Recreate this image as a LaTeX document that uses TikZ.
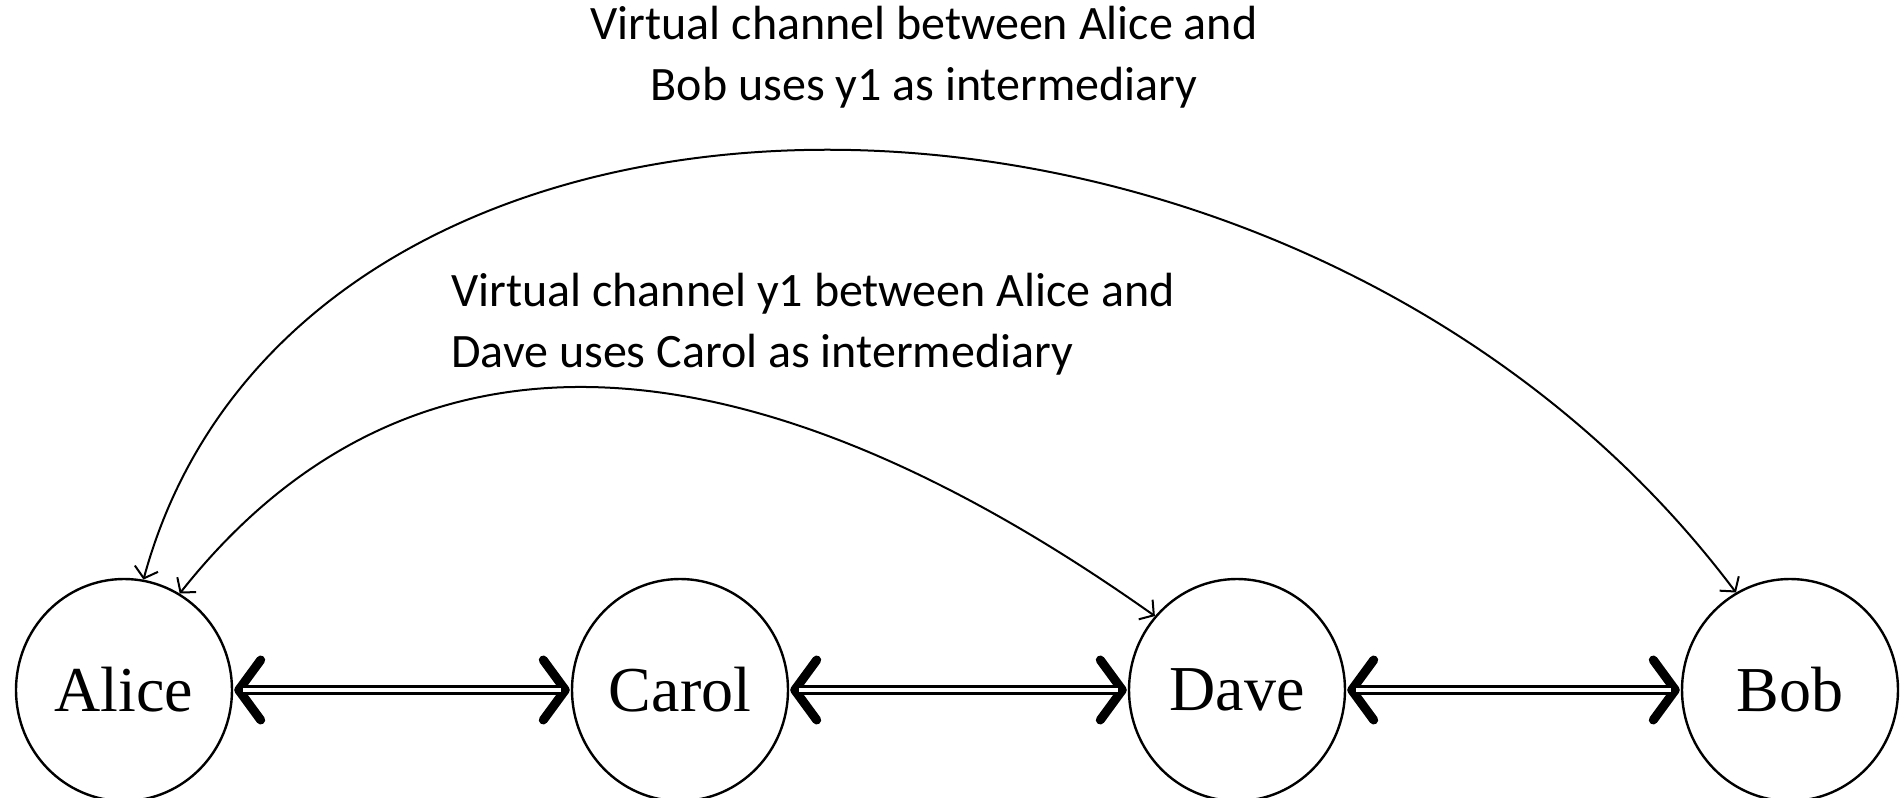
\documentclass[tikz,border=0pt]{standalone}
\usepackage{fontspec}
\setmainfont{Liberation Serif}
\newfontfamily\lblfont{Carlito}
\usetikzlibrary{arrows.meta,shapes.geometric}
\begin{document}
\begin{tikzpicture}[x=0.5pt,y=-0.5pt,
  party/.style={draw,line width=1.2pt,ellipse,minimum width=108pt,minimum height=111pt,inner sep=0pt,font=\fontsize{32}{38}\selectfont},
  linktips/.style={line width=2.4pt,
    {Straight Barb[length=11pt,width=30pt,line width=4.5pt,round]}-{Straight Barb[length=11pt,width=30pt,line width=4.5pt,round]},
    shorten <=0.5pt,shorten >=0.5pt},
  link/.style={double,line width=1.4pt,double distance=2.4pt,shorten <=5pt,shorten >=5pt},
  virt/.style={line width=1pt,{Straight Barb[length=5pt,width=12pt]}-{Straight Barb[length=5pt,width=12pt]}},
  lbl/.style={font=\lblfont\fontsize{24}{30.5}\selectfont,inner sep=0pt}]
\useasboundingbox (0,0) rectangle (1903,798);
\node[party] (alice) at (124,690) {Alice};
\node[party] (carol) at (680,690) {Carol};
\node[party] (dave) at (1237,690) {Dave};
\node[party] (bob) at (1790,690) {Bob};
\draw[linktips] (alice.east) -- (carol.west);
\draw[link] (alice.east) -- (carol.west);
\draw[linktips] (carol.east) -- (dave.west);
\draw[link] (carol.east) -- (dave.west);
\draw[linktips] (dave.east) -- (bob.west);
\draw[link] (dave.east) -- (bob.west);
\draw[virt] (alice.80) .. controls (300,5) and (1295,5) .. (bob.119);
\draw[virt] (alice.60) .. controls (400,315) and (730,315) .. (dave.138);
\node[lbl,align=center] (lbl1) at (924,57) {Virtual channel between Alice and\\Bob uses y1 as intermediary};
\node[lbl,align=left,anchor=west] (lbl2) at (451,324) {Virtual channel y1 between Alice and\\Dave uses Carol as intermediary};
\end{tikzpicture}
\end{document}
